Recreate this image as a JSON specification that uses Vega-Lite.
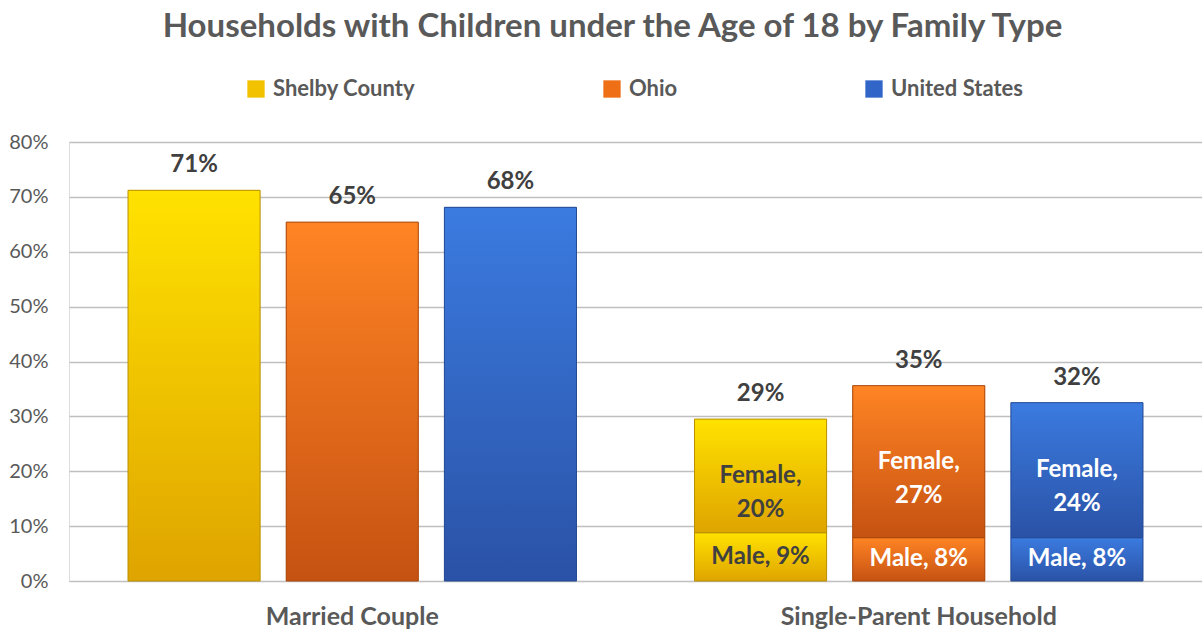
{
  "$schema": "https://vega.github.io/schema/vega-lite/v6.json",
  "width": 1133,
  "height": 439,
  "autosize": {"type": "none"},
  "padding": {"left": 69, "top": 142, "right": 0, "bottom": 52},
  "background": "white",
  "title": {
    "text": "Households with Children under the Age of 18 by Family Type",
    "font": "Lato",
    "fontSize": 33,
    "fontWeight": "bold",
    "color": "#595959",
    "anchor": "middle",
    "frame": "group",
    "dx": -23,
    "offset": 34
  },
  "data": {
    "values": [
      {"category": "Married Couple", "series": "Shelby County", "part": "Total", "value": 0.712, "label": "71%"},
      {"category": "Married Couple", "series": "Ohio", "part": "Total", "value": 0.654, "label": "65%"},
      {"category": "Married Couple", "series": "United States", "part": "Total", "value": 0.681, "label": "68%"},
      {"category": "Single-Parent Household", "series": "Shelby County", "part": "Male", "value": 0.088, "label": "Male, 9%"},
      {"category": "Single-Parent Household", "series": "Ohio", "part": "Male", "value": 0.079, "label": "Male, 8%"},
      {"category": "Single-Parent Household", "series": "United States", "part": "Male", "value": 0.079, "label": "Male, 8%"},
      {"category": "Single-Parent Household", "series": "Shelby County", "part": "Female", "value": 0.207, "label": "Female,\n20%"},
      {"category": "Single-Parent Household", "series": "Ohio", "part": "Female", "value": 0.277, "label": "Female,\n27%"},
      {"category": "Single-Parent Household", "series": "United States", "part": "Female", "value": 0.246, "label": "Female,\n24%"},
      {"category": "Single-Parent Household", "series": "Shelby County", "part": "Sum", "value": 0.295, "label": "29%"},
      {"category": "Single-Parent Household", "series": "Ohio", "part": "Sum", "value": 0.356, "label": "35%"},
      {"category": "Single-Parent Household", "series": "United States", "part": "Sum", "value": 0.325, "label": "32%"}
    ]
  },
  "encoding": {
    "x": {
      "field": "category",
      "type": "nominal",
      "sort": ["Married Couple", "Single-Parent Household"],
      "scale": {"paddingInner": 0, "paddingOuter": 0},
      "axis": {
        "title": null,
        "domain": false,
        "ticks": false,
        "labelAngle": 0,
        "labelFont": "Lato",
        "labelFontSize": 25,
        "labelFontWeight": "bold",
        "labelColor": "#595959",
        "labelPadding": 23,
        "labelLimit": 500
      }
    },
    "xOffset": {
      "field": "series",
      "type": "nominal",
      "sort": ["Shelby County", "Ohio", "United States"],
      "scale": {"paddingInner": 0.165, "paddingOuter": 0.373}
    }
  },
  "layer": [
    {
      "transform": [
        {"filter": "datum.part !== 'Sum'"},
        {"stack": "value", "groupby": ["category", "series"], "sort": [{"field": "part", "order": "descending"}], "as": ["v0", "v1"]}
      ],
      "mark": {"type": "bar"},
      "encoding": {
        "y": {
          "field": "v1",
          "type": "quantitative",
          "scale": {"domain": [0, 0.8], "nice": false},
          "axis": {
            "title": null,
            "values": [0, 0.1, 0.2, 0.3, 0.4, 0.5, 0.6, 0.7, 0.8],
            "format": ".0%",
            "domain": false,
            "ticks": false,
            "grid": true,
            "gridColor": "#BFBFBF",
            "gridWidth": 1.5,
            "labelFont": "Lato",
            "labelFontSize": 20,
            "labelColor": "#595959",
            "labelPadding": 21
          }
        },
        "y2": {"field": "v0"},
        "color": {
          "field": "series",
          "type": "nominal",
          "sort": ["Shelby County", "Ohio", "United States"],
          "scale": {"domain": ["Shelby County", "Ohio", "United States"], "range": ["#F2C200", "#EE6F16", "#3265C8"]},
          "legend": {
            "orient": "none",
            "legendX": 176,
            "legendY": -64,
            "direction": "horizontal",
            "title": null,
            "labelFont": "Lato",
            "labelFontSize": 22,
            "labelFontWeight": "bold",
            "labelColor": "#595959",
            "symbolType": "square",
            "symbolSize": 300,
            "symbolStrokeWidth": 0,
            "labelOffset": 6,
            "columnPadding": 185
          }
        }
      }
    },
    {
      "transform": [
        {"filter": "datum.part !== 'Sum'"},
        {"stack": "value", "groupby": ["category", "series"], "sort": [{"field": "part", "order": "descending"}], "as": ["v0", "v1"]}
      ],
      "mark": {"type": "bar", "strokeWidth": 1},
      "encoding": {
        "y": {"field": "v1", "type": "quantitative", "scale": {"domain": [0, 0.8], "nice": false}},
        "y2": {"field": "v0"},
        "fill": {
          "condition": [
            {"test": "datum.series === 'Shelby County'", "value": {"gradient": "linear", "x1": 0, "y1": 0, "x2": 0, "y2": 1, "stops": [{"offset": 0, "color": "#FFE200"}, {"offset": 1, "color": "#DFA400"}]}},
            {"test": "datum.series === 'Ohio'", "value": {"gradient": "linear", "x1": 0, "y1": 0, "x2": 0, "y2": 1, "stops": [{"offset": 0, "color": "#FF8424"}, {"offset": 1, "color": "#C65212"}]}}
          ],
          "value": {"gradient": "linear", "x1": 0, "y1": 0, "x2": 0, "y2": 1, "stops": [{"offset": 0, "color": "#3B7BE0"}, {"offset": 1, "color": "#2A52A6"}]}
        },
        "stroke": {
          "condition": [
            {"test": "datum.series === 'Shelby County'", "value": "#B89000"},
            {"test": "datum.series === 'Ohio'", "value": "#A8480C"}
          ],
          "value": "#244A94"
        }
      }
    },
    {
      "transform": [
        {"filter": "datum.part === 'Total' || datum.part === 'Sum'"}
      ],
      "mark": {"type": "text", "baseline": "alphabetic", "dy": -18, "font": "Lato", "fontSize": 24, "fontWeight": "bold", "color": "#404040"},
      "encoding": {
        "y": {"field": "value", "type": "quantitative", "scale": {"domain": [0, 0.8], "nice": false}},
        "text": {"field": "label"}
      }
    },
    {
      "transform": [
        {"filter": "datum.part === 'Male' || datum.part === 'Female'"},
        {"stack": "value", "groupby": ["category", "series"], "sort": [{"field": "part", "order": "descending"}], "as": ["v0", "v1"]},
        {"calculate": "(datum.v0 + datum.v1) / 2", "as": "mid"}
      ],
      "mark": {"type": "text", "baseline": "middle", "lineBreak": "\n", "lineHeight": 34, "font": "Lato", "fontSize": 24, "fontWeight": "bold"},
      "encoding": {
        "y": {"field": "mid", "type": "quantitative", "scale": {"domain": [0, 0.8], "nice": false}},
        "text": {"field": "label"},
        "color": {
          "condition": {"test": "datum.series === 'Shelby County'", "value": "#404040"},
          "value": "#FFFFFF"
        }
      }
    }
  ]
}
